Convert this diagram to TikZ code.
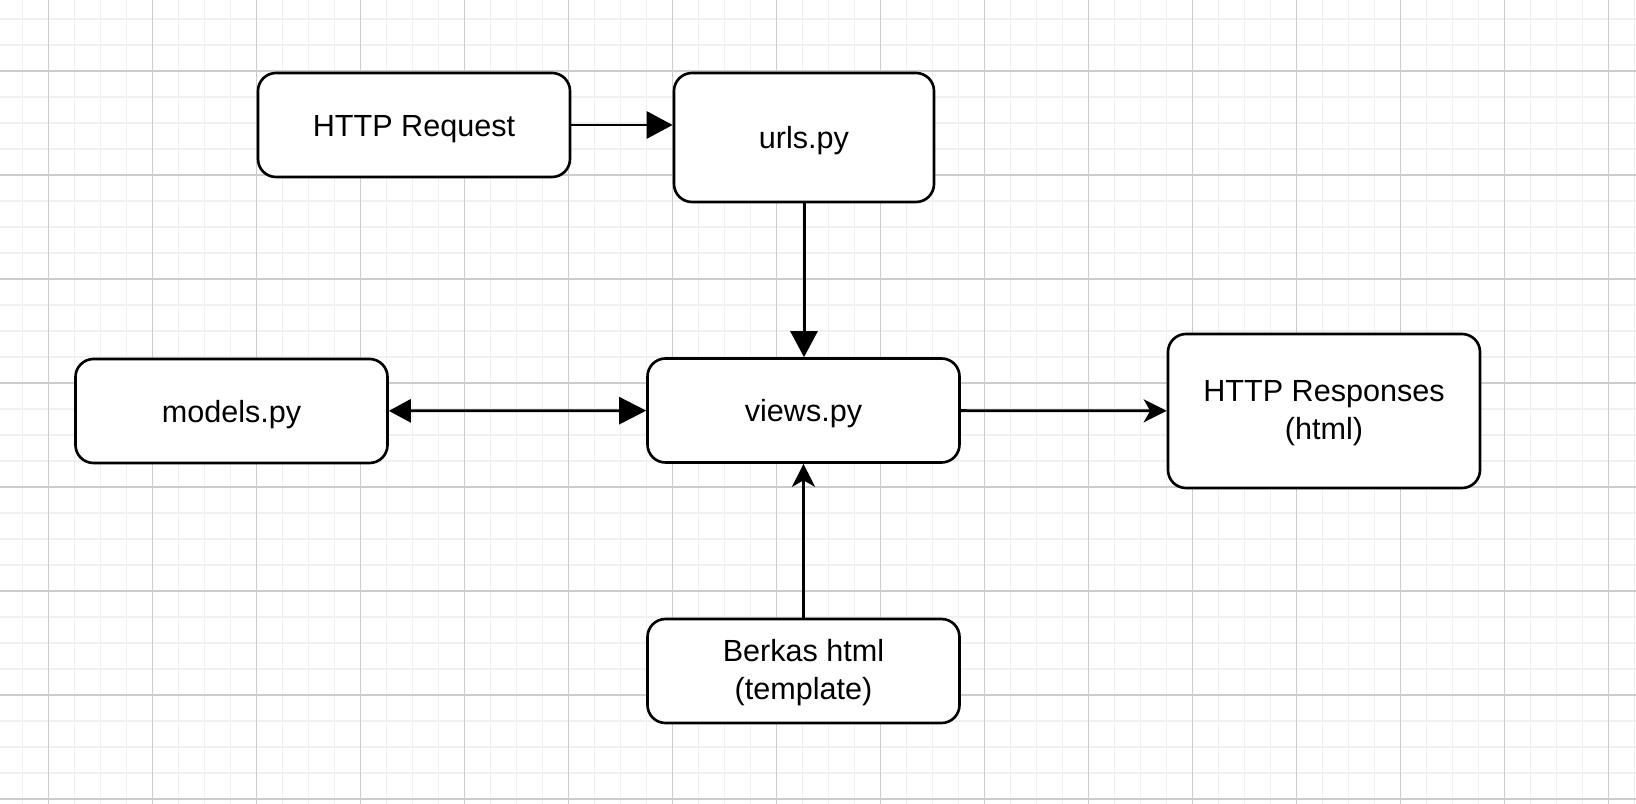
\documentclass[tikz,border=0pt]{standalone}
\usepackage{fontspec}
\setmainfont{Liberation Sans}
\usetikzlibrary{arrows.meta}

\begin{document}
\begin{tikzpicture}[
    % GLOBAL CFG
    x=0.2mm, y=-0.2mm,
    font=\fontsize{17.4}{21.3}\selectfont,
    % Styles
    filebox/.style={% For the file boxes
        rectangle,
        rounded corners=3.6mm,
        draw=black,
        line width=1.5pt,
        fill=white,
        minimum width=62.4mm,
        minimum height=20.8mm,
        inner sep=2pt,
        execute at begin node={\rule{0pt}{0.93em}},
    },
    twolines/.style={% For boxes with two text lines
        text height=36pt,
        text depth=3.65pt,
    },
    minorgrid/.style={% For the light grid lines
        draw=black!6,
        line width=0.35mm,
    },
    majorgrid/.style={% For every fourth grid line
        draw=black!20,
        line width=0.22mm,
    },
    ArrowT/.style={% Arrows with a filled triangle tip
        line width=1.7pt,
        -{Triangle[length=5.2mm,width=5.4mm]},
    },
    ArrowD/.style={% Arrows with a triangle tip at both ends
        line width=1.6pt,
        {Triangle[length=4.4mm,width=4.6mm]}-{Triangle[length=5.4mm,width=5.4mm]},
    },
    ArrowS/.style={% Arrows with a notched tip
        line width=1.6pt,
        -{Stealth[length=4.6mm,width=4.6mm,inset=1.3mm]},
    },
    every text node part/.style={
        align=center
    },
    ]
    \useasboundingbox (0,0) rectangle (1636,804);

    % Draw background grid
    \fill [white] (0,0) rectangle (1636,804);
    \foreach \k in {0,...,63}
        \draw [minorgrid] ({-3.6+26*\k},0) -- ({-3.6+26*\k},804);
    \foreach \k in {0,...,30}
        \draw [minorgrid] (0,{19+26*\k}) -- (1636,{19+26*\k});
    \foreach \k in {0,...,15}
        \draw [majorgrid] ({48.4+104*\k},0) -- ({48.4+104*\k},804);
    \foreach \k in {0,...,7}
        \draw [majorgrid] (0,{71+104*\k}) -- (1636,{71+104*\k});

    % Draw boxes
    \node [filebox] (req) at (414,125) {HTTP Request};
    \node [filebox, minimum width=52mm, minimum height=25.8mm] (urls) at (804,137.5) {urls.py};
    \node [filebox] (views) at (803.5,410.5) {views.py};
    \node [filebox] (models) at (231.5,411) {models.py};
    \node [filebox, twolines, minimum height=30.8mm] (resp) at (1324,411) {HTTP Responses\\(html)};
    \node [filebox, twolines] (berkas) at (803.5,671) {Berkas html\\(template)};

    % Connect all
    \draw [ArrowT] (req.east) -- (req.east -| urls.west);
    \draw [ArrowT] (urls.south) -- (urls.south |- views.north);
    \draw [ArrowD] (models) -- (views);
    \draw [ArrowS] (views) -- (resp);
    \draw [ArrowS] (berkas) -- (views);

\end{tikzpicture}
\end{document}
